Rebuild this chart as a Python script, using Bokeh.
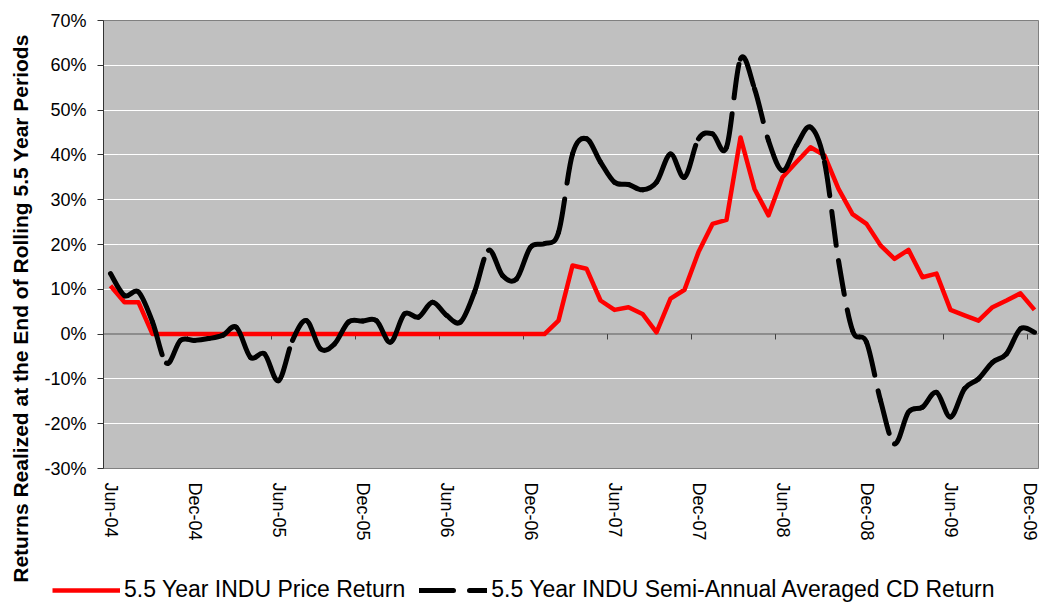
import numpy as np
import pandas as pd
from bokeh.plotting import figure
from bokeh.layouts import row, column
from bokeh.models import (FixedTicker, PrintfTickFormatter, Span, Legend,
                          LegendItem, Range1d, Label)
from bokeh.embed import file_html
from bokeh.resources import INLINE

# ---------------- data ----------------
months = list(pd.period_range("2004-06", "2009-12", freq="M").strftime("%b-%y"))

price_return = [10.8, 7.1, 7.1] + [0.0] * 29 + [
    3.0, 15.3, 14.6, 7.5, 5.4, 6.0, 4.5, 0.4, 7.9, 9.9,
    18.3, 24.6, 25.5, 43.9, 32.4, 26.5, 35.0, 38.4, 41.7, 39.9,
    32.4, 26.8, 24.6, 19.8, 16.8, 18.8, 12.7, 13.5, 5.4, 4.2,
    3.0, 6.0, 7.5, 9.1, 5.4]

cd_return = [
    13.5, 8.6, 9.4, 2.7, -6.5, -1.4, -1.4, -1.0, -0.3, 1.5,
    -5.2, -4.4, -10.4, -1.4, 3.0, -3.3, -2.2, 2.7, 2.9, 3.0,
    -1.8, 4.5, 3.8, 7.1, 4.2, 2.7, 9.4, 18.7, 13.1, 12.3,
    19.4, 20.2, 22.7, 40.2, 43.6, 38.4, 33.9, 33.4, 32.2, 33.9,
    40.2, 35.0, 43.6, 44.7, 41.7, 61.4, 54.8, 43.2, 36.5, 42.1,
    46.2, 38.4, 16.4, 0.8, -1.8, -14.8, -24.5, -17.4, -16.3, -13.0,
    -18.5, -12.2, -10.0, -6.3, -4.4, 1.2, 0.4]

y_ticks = [-30, -20, -10, 0, 10, 20, 30, 40, 50, 60, 70]
label_step = 6

series_names = ["5.5 Year INDU Price Return",
                "5.5 Year INDU Semi-Annual Averaged CD Return"]
y_title = "Returns Realized at the End of Rolling 5.5 Year Periods"

# ---------------- styles ----------------
FONT = "Liberation Sans"
RED = dict(line_color="#FF0000", line_width=4.5, line_join="round")
BLK = dict(line_color="black", line_width=5, line_dash="34 16", line_cap="round")
n = len(months)
idx = list(range(n))

# ---------------- main chart ----------------
p = figure(width=999, height=555, output_backend="svg", toolbar_location=None,
           x_range=Range1d(-0.5, -0.5 + 936 / 14), y_range=Range1d(-30, 70),
           min_border_left=63, min_border_right=0, min_border_top=20,
           min_border_bottom=87)
p.frame_align = False

p.background_fill_color = "#C0C0C0"
p.border_fill_color = "white"
p.outline_line_color = "#808080"
p.outline_line_width = 1

p.xgrid.grid_line_color = None
p.ygrid.grid_line_color = "white"
p.ygrid.grid_line_width = 1
p.ygrid.ticker = FixedTicker(ticks=y_ticks)

p.yaxis.ticker = FixedTicker(ticks=y_ticks)
p.yaxis.formatter = PrintfTickFormatter(format="%d%%")
p.yaxis.major_label_text_font = FONT
p.yaxis.major_label_text_font_size = "18px"
p.yaxis.major_label_text_color = "black"
p.yaxis.axis_line_color = "#333333"
p.yaxis.major_tick_line_color = "#333333"
p.yaxis.major_tick_out = 6
p.yaxis.major_tick_in = 0
p.yaxis.minor_tick_line_color = None
p.yaxis.major_label_standoff = 11

label_idx = idx[::label_step]
p.xaxis.ticker = FixedTicker(ticks=label_idx)
p.xaxis.major_label_overrides = {i: months[i] for i in label_idx}
p.xaxis.major_label_orientation = "vertical"
p.xaxis.major_label_text_font = FONT
p.xaxis.major_label_text_font_size = "18px"
p.xaxis.major_label_text_color = "black"
p.xaxis.axis_line_color = None
p.xaxis.major_tick_line_color = None
p.xaxis.minor_tick_line_color = None
p.xaxis.major_tick_out = 0
p.xaxis.major_tick_in = 0
p.xaxis.major_label_standoff = 14

# category axis drawn at 0%
p.add_layout(Span(location=0, dimension="width", line_color="#404040",
                  line_width=1, level="underlay"))
bounds = [i - 0.5 for i in label_idx[1:]]
p.segment(x0=bounds, y0=[0] * len(bounds), x1=bounds, y1=[-1.2] * len(bounds),
          line_color="#404040", line_width=1)

# red series: straight segments
p.line(idx, price_return, **RED)

# black series: smoothed (Catmull-Rom -> cubic Bezier) curve, one piece per interval
ext = [cd_return[0]] + cd_return + [cd_return[-1]]
xe = [idx[0]] + idx + [idx[-1]]
bz = dict(x0=[], y0=[], x1=[], y1=[], cx0=[], cy0=[], cx1=[], cy1=[])
for i in range(n - 1):
    k = i + 1
    bz["x0"].append(xe[k]); bz["y0"].append(ext[k])
    bz["x1"].append(xe[k + 1]); bz["y1"].append(ext[k + 1])
    bz["cx0"].append(xe[k] + (xe[k + 1] - xe[k - 1]) / 6)
    bz["cy0"].append(ext[k] + (ext[k + 1] - ext[k - 1]) / 6)
    bz["cx1"].append(xe[k + 1] - (xe[k + 2] - xe[k]) / 6)
    bz["cy1"].append(ext[k + 1] - (ext[k + 2] - ext[k]) / 6)
p.bezier(**bz, **BLK)

# ---------------- y title strip ----------------
t = figure(width=40, height=603, output_backend="svg", toolbar_location=None,
           x_range=Range1d(0, 40), y_range=Range1d(0, 603),
           x_axis_location=None, y_axis_location=None, min_border=0)
t.frame_align = False
t.grid.grid_line_color = None
t.outline_line_color = None
t.background_fill_color = "white"
t.add_layout(Label(x=20, y=603 - 308, text=y_title, angle=np.pi / 2,
                   text_align="center", text_baseline="middle",
                   text_font=FONT, text_font_size="21px",
                   text_font_style="bold", text_color="black"))

# ---------------- legend strip ----------------
lg = figure(width=999, height=48, output_backend="svg", toolbar_location=None,
            x_range=Range1d(0, 1), y_range=Range1d(0, 1),
            x_axis_location=None, y_axis_location=None, min_border=0)
lg.frame_align = False
lg.grid.grid_line_color = None
lg.outline_line_color = None
lg.background_fill_color = "white"
r_red = lg.line([np.nan], [np.nan], **RED)
r_blk = lg.multi_line([[np.nan]], [[np.nan]], **BLK)
legend = Legend(items=[LegendItem(label=series_names[0], renderers=[r_red]),
                       LegendItem(label=series_names[1], renderers=[r_blk])],
                orientation="horizontal", location=(12, 0),
                padding=0, margin=0, spacing=14, label_standoff=4,
                glyph_width=68, glyph_height=20,
                label_text_font=FONT, label_text_font_size="23px",
                label_text_color="black",
                background_fill_alpha=0, border_line_color=None)
lg.add_layout(legend, "center")

layout = row(t, column(p, lg, spacing=0), spacing=0)

open("out.html", "w").write(file_html(layout, INLINE))
